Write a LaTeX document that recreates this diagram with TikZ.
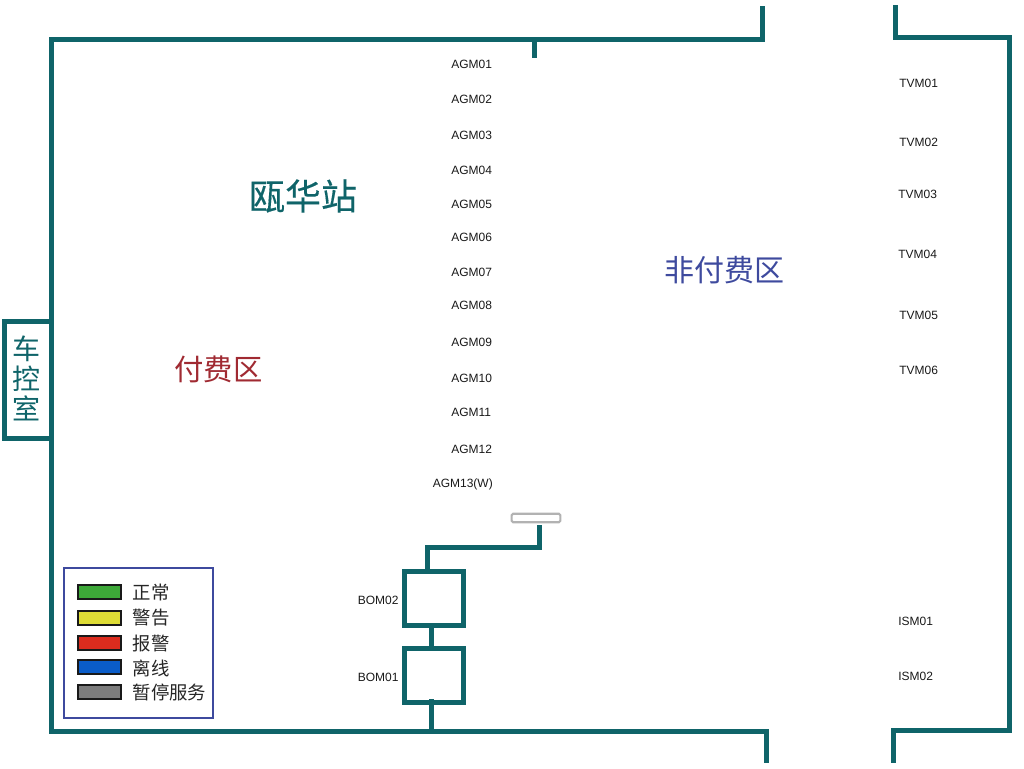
\documentclass[tikz,border=0pt]{standalone}
\usepackage{fontspec}
\setmainfont{Liberation Sans}
\newfontfamily\cjk{Noto Sans CJK SC}
\newfontfamily\cjkb[FakeBold=0.35]{Noto Sans CJK SC}
\definecolor{wallteal}{HTML}{0F6469}
\definecolor{zonered}{HTML}{A02A32}
\definecolor{zoneblue}{HTML}{3E4A9E}
\definecolor{swgreen}{HTML}{3DA838}
\definecolor{swyellow}{HTML}{DEDC36}
\definecolor{swred}{HTML}{DC2C1E}
\definecolor{swblue}{HTML}{0A5CC8}
\definecolor{swgray}{HTML}{7C7C7C}
\tikzset{
  wall/.style={draw=wallteal,line width=3.75pt,line cap=rect,line join=miter},
  link/.style={draw=wallteal,line width=3.75pt},
  devlabel/.style={font=\fontsize{9}{10}\selectfont,text=black!90,inner sep=0pt,anchor=west},
  cjklabel/.style={inner sep=0pt,anchor=center},
  bombox/.style={draw=wallteal,line width=3.75pt,fill=white,minimum width=44.25pt,minimum height=40.5pt,inner sep=0pt},
  swatch/.style={draw=black!90,line width=1.5pt,minimum width=32pt,minimum height=10.5pt,inner sep=0pt},
  legendtext/.style={font=\cjk\fontsize{13.8}{14}\selectfont,text=black!85,inner sep=0pt,anchor=west},
}
\begin{document}
\begin{tikzpicture}[x=0.75pt,y=-0.75pt]
\useasboundingbox (0,0) rectangle (1024,768);
% walls
\coordinate (wallA) at (762,8.5);
\coordinate (wallB) at (762,39);
\coordinate (wallC) at (51,39);
\coordinate (wallD) at (51,731);
\coordinate (wallE) at (766,731);
\coordinate (wallF) at (766,760);
\draw[wall] (wallA) -- (wallB) -- (wallC) -- (wallD) -- (wallE) -- (wallF);
\coordinate (wallG) at (895,7.5);
\coordinate (wallH) at (895,37);
\coordinate (wallI) at (1009,37);
\coordinate (wallJ) at (1009,730);
\coordinate (wallK) at (893,730);
\coordinate (wallL) at (893,760);
\draw[wall] (wallG) -- (wallH) -- (wallI) -- (wallJ) -- (wallK) -- (wallL);
\coordinate (stubA) at (534,39);
\coordinate (stubB) at (534,58);
\draw[link] (stubA) -- (stubB);
% control room
\coordinate (roomA) at (51,321);
\coordinate (roomB) at (4,321);
\coordinate (roomC) at (4,438);
\coordinate (roomD) at (51,438);
\draw[wall] (roomA) -- (roomB) -- (roomC) -- (roomD);
\node[cjklabel,text=wallteal,font=\cjk\fontsize{21}{21}\selectfont] (room1) at (26.5,349) {车};
\node[cjklabel,text=wallteal,font=\cjk\fontsize{21}{21}\selectfont] (room2) at (26.5,379) {控};
\node[cjklabel,text=wallteal,font=\cjk\fontsize{21}{21}\selectfont] (room3) at (26.5,408) {室};
% titles
\node[cjklabel,text=wallteal,font=\cjkb\fontsize{27}{27}\selectfont] (title) at (303,196) {瓯华站};
\node[cjklabel,text=zonered,font=\cjk\fontsize{22}{22}\selectfont] (paid) at (218.5,369) {付费区};
\node[cjklabel,text=zoneblue,font=\cjk\fontsize{22.5}{22.5}\selectfont] (unpaid) at (724,270) {非付费区};
% AGM
\node[devlabel] (agm01) at (451,64) {AGM01};
\node[devlabel] (agm02) at (451,99) {AGM02};
\node[devlabel] (agm03) at (451,135) {AGM03};
\node[devlabel] (agm04) at (451,170) {AGM04};
\node[devlabel] (agm05) at (451,204) {AGM05};
\node[devlabel] (agm06) at (451,237) {AGM06};
\node[devlabel] (agm07) at (451,272) {AGM07};
\node[devlabel] (agm08) at (451,305) {AGM08};
\node[devlabel] (agm09) at (451,342) {AGM09};
\node[devlabel] (agm10) at (451,378) {AGM10};
\node[devlabel] (agm11) at (451,412) {AGM11};
\node[devlabel] (agm12) at (451,449) {AGM12};
\node[devlabel] (agm13) at (432.5,484) {AGM13(W)};
% TVM and ISM
\node[devlabel] (tvm01) at (899,83) {TVM01};
\node[devlabel] (tvm02) at (899,142) {TVM02};
\node[devlabel] (tvm03) at (898,194) {TVM03};
\node[devlabel] (tvm04) at (898,254) {TVM04};
\node[devlabel] (tvm05) at (899,315) {TVM05};
\node[devlabel] (tvm06) at (899,370) {TVM06};
\node[devlabel] (ism01) at (898,621) {ISM01};
\node[devlabel] (ism02) at (898,676) {ISM02};
% BOM
\coordinate (gateLink) at (539,525);
\coordinate (bendA) at (539,547.5);
\coordinate (bendB) at (427,547.5);
\coordinate (bomTop) at (427,571);
\draw[link,line join=miter] (gateLink) -- (bendA) -- (bendB) -- (bomTop);
\node[draw=black!30,line width=1.6pt,rounded corners=1pt,fill=white,minimum width=36.5pt,minimum height=6.3pt,inner sep=0pt] (gate) at (536,518) {};
\node[bombox] (bom2) at (433.5,598) {};
\node[bombox] (bom1) at (433.5,675) {};
\coordinate (bom2b) at (431,625);
\coordinate (bom1t) at (431,648);
\draw[link] (bom2b) -- (bom1t);
\coordinate (bom1in) at (431,699);
\coordinate (floorJoin) at (431,731);
\draw[link] (bom1in) -- (floorJoin);
\node[devlabel] (bom2l) at (357.5,600) {BOM02};
\node[devlabel] (bom1l) at (357.5,677) {BOM01};
% legend
\node[draw=zoneblue,line width=1.4pt,fill=white,minimum width=111.5pt,minimum height=112.5pt,inner sep=0pt] (legend) at (138.5,643) {};
\node[swatch,fill=swgreen] (s1) at (99.5,592) {};
\node[swatch,fill=swyellow] (s2) at (99.5,618) {};
\node[swatch,fill=swred] (s3) at (99.5,643) {};
\node[swatch,fill=swblue] (s4) at (99.5,667) {};
\node[swatch,fill=swgray] (s5) at (99.5,692) {};
\node[legendtext] (t1) at (132.5,592.5) {正常};
\node[legendtext] (t2) at (132.5,618) {警告};
\node[legendtext] (t3) at (132.5,643) {报警};
\node[legendtext] (t4) at (132.5,668) {离线};
\node[legendtext] (t5) at (132.5,692.5) {暂停服务};
\end{tikzpicture}
\end{document}
